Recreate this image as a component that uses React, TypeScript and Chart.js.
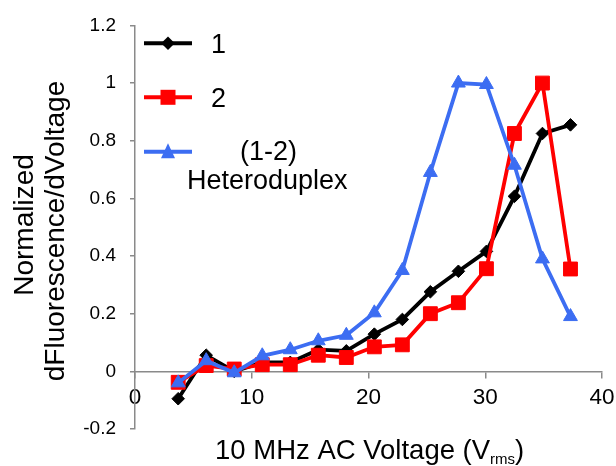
import React, { useEffect, useRef } from 'react';
import { Chart, registerables } from 'chart.js';

Chart.register(...registerables);

const FONT = '"Liberation Sans", Arial, sans-serif';

// Data (x = 10 MHz AC voltage, Vrms)
const xValues = [3.7, 6.1, 8.5, 10.9, 13.3, 15.7, 18.1, 20.5, 22.9, 25.3, 27.7, 30.1, 32.5, 34.9, 37.3];
const series1 = [-0.095, 0.056, 0.0, 0.031, 0.031, 0.075, 0.071, 0.129, 0.18, 0.276, 0.347, 0.416, 0.607, 0.825, 0.855];
const series2 = [-0.038, 0.02, 0.008, 0.023, 0.023, 0.056, 0.048, 0.085, 0.092, 0.2, 0.238, 0.356, 0.825, 1.0, 0.355];
const seriesHetero = [-0.04, 0.037, -0.005, 0.054, 0.075, 0.106, 0.125, 0.203, 0.35, 0.69, 1.0, 0.995, 0.715, 0.39, 0.19];

const xTicks = [0, 10, 20, 30, 40];
const yTicks = [-0.2, 0, 0.2, 0.4, 0.6, 0.8, 1.0, 1.2];

const seriesNames = ['1', '2', '(1-2)', 'Heteroduplex'];
const yTitleLines = ['Normalized', 'dFluorescence/dVoltage'];
const xTitleMain = '10 MHz AC Voltage (V';
const xTitleSub = 'rms';
const xTitleEnd = ')';

const BLACK = '#000000';
const RED = '#FF0000';
const BLUE = '#3C6DF2';
const AXIS = '#8a8a8a';

function toPoints(ys: number[]) {
  return xValues.map((x, i) => ({ x, y: ys[i] }));
}

function drawMarker(ctx: CanvasRenderingContext2D, kind: string, cx: number, cy: number, color: string) {
  ctx.save();
  ctx.fillStyle = color;
  ctx.beginPath();
  if (kind === 'diamond') {
    const r = 6.8;
    ctx.moveTo(cx, cy - r);
    ctx.lineTo(cx + r, cy);
    ctx.lineTo(cx, cy + r);
    ctx.lineTo(cx - r, cy);
  } else if (kind === 'square') {
    const h = 7.5;
    ctx.rect(cx - h, cy - h, 2 * h, 2 * h);
  } else {
    ctx.moveTo(cx, cy - 8.5);
    ctx.lineTo(cx + 7, cy + 6.5);
    ctx.lineTo(cx - 7, cy + 6.5);
  }
  ctx.closePath();
  ctx.fill();
  ctx.restore();
}

const annotations = {
  id: 'annotations',
  afterDraw(chart: any) {
    const ctx: CanvasRenderingContext2D = chart.ctx;
    ctx.save();
    ctx.fillStyle = '#000';
    ctx.textBaseline = 'alphabetic';

    // Y axis title (two rotated lines)
    ctx.font = `28px ${FONT}`;
    ctx.textAlign = 'center';
    const yLines = [
      { text: yTitleLines[0], bx: 33, cy: 225 },
      { text: yTitleLines[1], bx: 63.5, cy: 231 },
    ];
    for (const l of yLines) {
      ctx.save();
      ctx.translate(l.bx, l.cy);
      ctx.rotate(-Math.PI / 2);
      ctx.fillText(l.text, 0, 0);
      ctx.restore();
    }

    // X axis title with subscript
    ctx.textAlign = 'left';
    let x = 215;
    ctx.font = `27.5px ${FONT}`;
    ctx.fillText(xTitleMain, x, 459);
    x += ctx.measureText(xTitleMain).width;
    ctx.font = `15px ${FONT}`;
    ctx.fillText(xTitleSub, x, 464);
    x += ctx.measureText(xTitleSub).width;
    ctx.font = `27.5px ${FONT}`;
    ctx.fillText(xTitleEnd, x, 459);

    // Legend
    const items = [
      { color: BLACK, kind: 'diamond', y: 43.3 },
      { color: RED, kind: 'square', y: 97.3 },
      { color: BLUE, kind: 'triangle', y: 151.7 },
    ];
    for (const it of items) {
      ctx.save();
      ctx.strokeStyle = it.color;
      ctx.lineWidth = 4;
      ctx.beginPath();
      ctx.moveTo(144, it.y);
      ctx.lineTo(192, it.y);
      ctx.stroke();
      ctx.restore();
      drawMarker(ctx, it.kind, 168, it.y, it.color);
    }
    ctx.fillStyle = '#000';
    ctx.font = `27px ${FONT}`;
    ctx.textAlign = 'left';
    ctx.fillText(seriesNames[0], 211, 53);
    ctx.fillText(seriesNames[1], 211, 106.5);
    ctx.fillText(seriesNames[2], 240, 159.5);
    ctx.fillText(seriesNames[3], 187, 188.5);
    ctx.restore();
  },
};

export default function App() {
  const canvasRef = useRef<HTMLCanvasElement | null>(null);

  useEffect(() => {
    if (!canvasRef.current) return;
    const chart = new Chart(canvasRef.current, {
      type: 'line',
      data: {
        datasets: [
          {
            label: seriesNames[0],
            data: toPoints(series1),
            borderColor: BLACK,
            backgroundColor: BLACK,
            borderWidth: 3.8,
            pointStyle: 'rectRot',
            pointRadius: 6.3,
            pointBorderWidth: 1,
            pointBorderColor: BLACK,
            pointBackgroundColor: BLACK,
            tension: 0,
            order: 2,
          },
          {
            label: seriesNames[1],
            data: toPoints(series2),
            borderColor: RED,
            backgroundColor: RED,
            borderWidth: 3.8,
            pointStyle: 'rect',
            pointRadius: 9.8,
            pointBorderWidth: 1,
            pointBorderColor: RED,
            pointBackgroundColor: RED,
            tension: 0,
            order: 1,
          },
          {
            label: seriesNames[2] + ' ' + seriesNames[3],
            data: toPoints(seriesHetero),
            borderColor: BLUE,
            backgroundColor: BLUE,
            borderWidth: 3.8,
            pointStyle: 'triangle',
            pointRadius: 8,
            pointBorderWidth: 1,
            pointBorderColor: BLUE,
            pointBackgroundColor: BLUE,
            tension: 0,
            order: 0,
          },
        ],
      },
      options: {
        animation: false,
        responsive: false,
        maintainAspectRatio: false,
        devicePixelRatio: 1,
        layout: { padding: { top: 23, right: 14, bottom: 37, left: 0 } },
        plugins: {
          legend: { display: false },
          tooltip: { enabled: false },
          title: { display: false },
        },
        scales: {
          x: {
            type: 'linear',
            position: { y: 0 } as any,
            min: 0,
            max: 40,
            afterFit: (s: any) => {
              s.height = 0;
              s.paddingLeft = 0;
              s.paddingRight = 0;
            },
            afterBuildTicks: (s: any) => {
              s.ticks = xTicks.map((v) => ({ value: v }));
            },
            ticks: {
              color: '#000',
              font: { family: FONT, size: 22.5 },
              padding: 7,
              maxRotation: 0,
              autoSkip: false,
              callback: (v: any) => String(v),
            },
            grid: {
              display: true,
              drawOnChartArea: false,
              drawTicks: true,
              tickLength: 6,
              color: AXIS,
              tickColor: AXIS,
              lineWidth: 1.5,
            },
            border: { display: true, color: AXIS, width: 1.5 },
            title: { display: false },
          },
          y: {
            type: 'linear',
            position: 'left',
            min: -0.2,
            max: 1.2,
            afterFit: (s: any) => {
              s.width = 135;
            },
            afterBuildTicks: (s: any) => {
              s.ticks = yTicks.map((v) => ({ value: v }));
            },
            ticks: {
              color: '#000',
              font: { family: FONT, size: 19 },
              padding: 14,
              autoSkip: false,
              callback: (v: any) => String(Math.round(Number(v) * 10) / 10),
            },
            grid: {
              display: true,
              drawOnChartArea: false,
              drawTicks: true,
              tickLength: 5,
              color: AXIS,
              tickColor: AXIS,
              lineWidth: 1.5,
            },
            border: { display: true, color: AXIS, width: 1.5 },
            title: { display: false },
          },
        },
      },
      plugins: [annotations],
    });
    return () => chart.destroy();
  }, []);

  return (
    <div style={{ position: 'absolute', left: 0, top: 0, width: 616, height: 466, background: '#fff' }}>
      <canvas ref={canvasRef} width={616} height={466} style={{ width: 616, height: 466, display: 'block' }} />
    </div>
  );
}
